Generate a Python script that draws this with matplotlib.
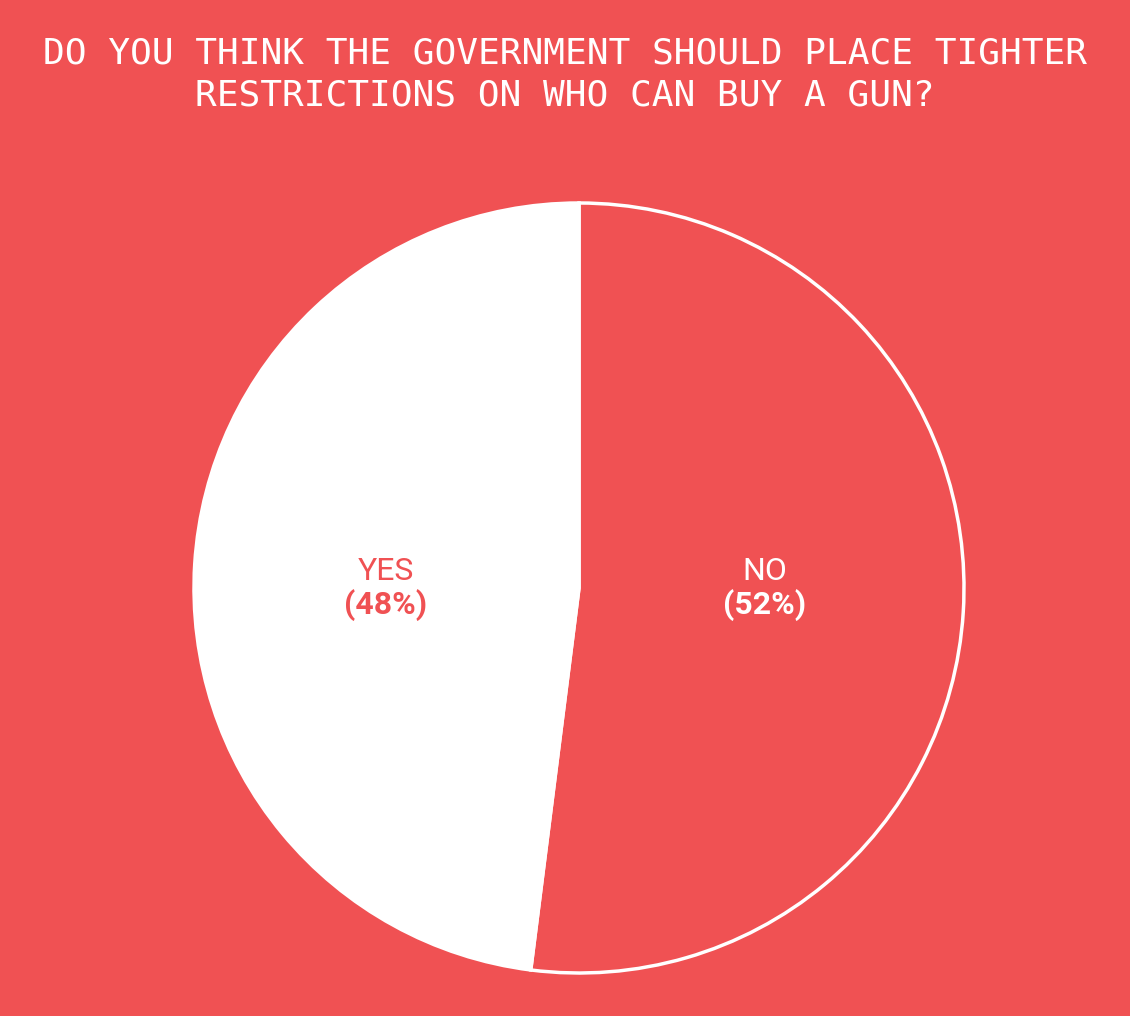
import matplotlib
matplotlib.use("Agg")
import matplotlib.pyplot as plt

categories = ["NO", "YES"]
values = [52, 48]
title_lines = ["DO YOU THINK THE GOVERNMENT SHOULD PLACE TIGHTER",
               "RESTRICTIONS ON WHO CAN BUY A GUN?"]

BG = "#F05153"
W, H = 1130, 1016
fig = plt.figure(figsize=(W / 100, H / 100), dpi=100, facecolor=BG)

cx, cy, r = 579, 588, 385
ax = fig.add_axes([(cx - r) / W, (H - cy - r) / H, 2 * r / W, 2 * r / H])
ax.set_facecolor(BG)
wedges, _ = ax.pie(values, startangle=90, counterclock=False,
                   colors=[BG, "white"], radius=1.0,
                   wedgeprops=dict(edgecolor="white", linewidth=2.5))
for w in wedges:
    w.set_clip_on(False)
ax.set_xlim(-1.0, 1.0)
ax.set_ylim(-1.0, 1.0)
ax.set_aspect("equal")
ax.axis("off")

for i, line in enumerate(title_lines):
    fig.text(565 / W, 1 - (54 + 42 * i) / H, line, ha="center", va="center",
             color="white", fontsize=26, family="DejaVu Sans Mono")

label_pos = {"NO": (765, 580), "YES": (386, 580)}
label_col = {"NO": "white", "YES": BG}
for cat, v in zip(categories, values):
    x, y = label_pos[cat]
    fig.text(x / W, 1 - y / H, cat, ha="center", va="baseline",
             color=label_col[cat], fontsize=23, family="Roboto")
    fig.text(x / W, 1 - (y + 34) / H, f"({v}%)", ha="center", va="baseline",
             color=label_col[cat], fontsize=23, family="Roboto", weight="bold")

fig.savefig("out.png", dpi=100, facecolor=BG)
